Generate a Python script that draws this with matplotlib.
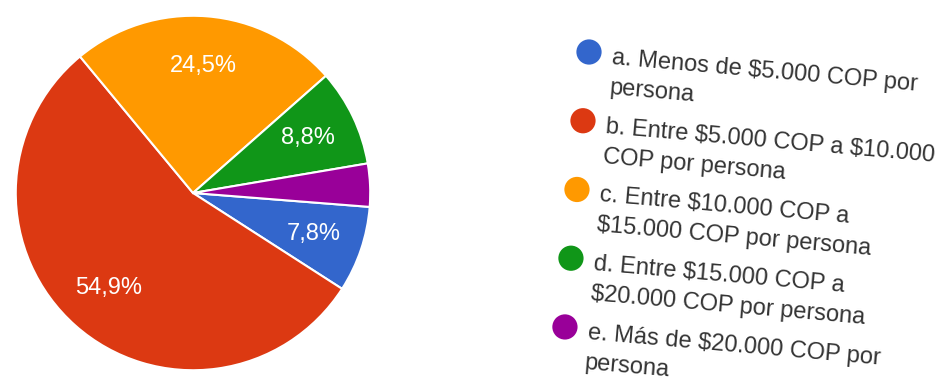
import numpy as np
import matplotlib.pyplot as plt

# responses per option (102 in total)
labels = [
    "a. Menos de $5.000 COP por\npersona",
    "b. Entre $5.000 COP a $10.000\nCOP por persona",
    "c. Entre $10.000 COP a\n$15.000 COP por persona",
    "d. Entre $15.000 COP a\n$20.000 COP por persona",
    "e. Más de $20.000 COP por\npersona",
]
counts = [8, 56, 25, 9, 4]
colors = ["#3366cc", "#dc3912", "#ff9900", "#109618", "#990099"]

W, H = 945, 380
fig = plt.figure(figsize=(W / 100, H / 100), dpi=100)
plt.rcParams["font.family"] = ["Liberation Sans", "DejaVu Sans"]


def pct_label(p):
    # small slices get no label
    if p < 5:
        return ""
    return f"{p:.1f}%".replace(".", ",")


ax = fig.add_axes([14 / W, 8 / H, 358 / W, 358 / H])
wedges, texts, autotexts = ax.pie(
    counts,
    colors=colors,
    startangle=-4.5,
    counterclock=False,
    autopct=pct_label,
    pctdistance=0.72,
    wedgeprops=dict(edgecolor="white", linewidth=1.5),
    textprops=dict(color="white", fontsize=17),
)
ax.set_xlim(-1.01, 1.01)
ax.set_ylim(-1.01, 1.01)
ax.set_aspect("equal")
ax.axis("off")

# legend, drawn slightly tilted, in pixel coordinates
lg = fig.add_axes([0, 0, 1, 1])
lg.set_xlim(0, W)
lg.set_ylim(H, 0)
lg.axis("off")

theta = np.deg2rad(5)
u = np.array([np.cos(theta), np.sin(theta)])   # along the text
v = np.array([-np.sin(theta), np.cos(theta)])  # down the list
start = np.array([589.0, 52.0])
step = 69.0
line_h = 30.0

for i, (lab, col) in enumerate(zip(labels, colors)):
    c = start + i * step * v
    lg.scatter(c[0], c[1], s=330, color=col, edgecolors="none", zorder=3)
    for j, line in enumerate(lab.split("\n")):
        p = c + 23 * u + (10 + j * line_h) * v
        lg.text(p[0], p[1], line, fontsize=17, color="#333333",
                rotation=-5, rotation_mode="anchor",
                ha="left", va="baseline", parse_math=False)

fig.savefig("out.png", dpi=100, facecolor="white")
